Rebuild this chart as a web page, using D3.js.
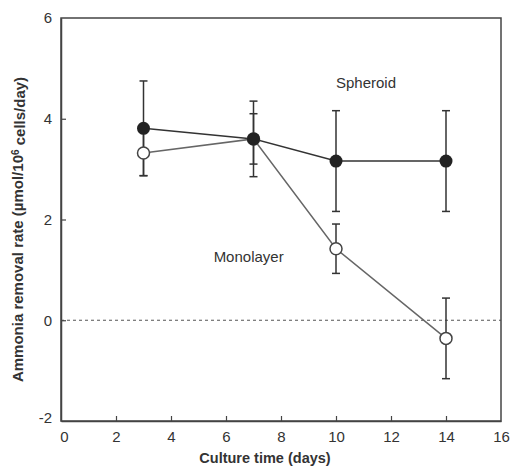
<!DOCTYPE html>
<html>
<head>
<meta charset="utf-8">
<script src="https://cdn.jsdelivr.net/npm/d3@7"></script>
<style>
  body { margin: 0; background: #fff; }
  text { font-family: "Liberation Sans", Arial, sans-serif; fill: #333; }
</style>
</head>
<body>
<svg width="512" height="469"></svg>
<script>
let svg = d3.select("svg");

// donnees
let days = [3, 7, 10, 14];
let spheroid = [3.81, 3.6, 3.16, 3.16];
let spheroidErr = [0.94, 0.5, 1.0, 1.0];
let monolayer = [3.32, 3.6, 1.42, -0.36];
let monolayerErr = [0.45, 0.75, 0.49, 0.8];
let xTicks = [0, 2, 4, 6, 8, 10, 12, 14, 16];
let yTicks = [-2, 0, 2, 4, 6];

let marge = { left: 61, right: 11, top: 18, bottom: 48 };
let w = 512 - marge.left - marge.right;
let h = 469 - marge.top - marge.bottom;

let x = d3.scaleLinear().domain([0, 16]).range([0, w]);
let y = d3.scaleLinear().domain([-2, 6]).range([h, 0]);

let g = svg.append("g").attr("transform", `translate(${marge.left},${marge.top})`);

// ligne zero pointillee
g.append("line")
    .attr("x1", 0).attr("x2", w)
    .attr("y1", y(0)).attr("y2", y(0))
    .attr("stroke", "#555")
    .attr("stroke-width", 1.2)
    .attr("stroke-dasharray", "3,3");

// cadre
g.append("rect")
    .attr("width", w).attr("height", h)
    .attr("fill", "none")
    .attr("stroke", "#444")
    .attr("stroke-width", 1.5);

// axes
let fmt = d => String(d);
let axeX = g.append("g")
    .attr("transform", `translate(0,${h})`)
    .call(d3.axisBottom(x).tickValues(xTicks).tickFormat(fmt).tickSizeInner(-5).tickSizeOuter(0).tickPadding(10));
let axeY = g.append("g")
    .call(d3.axisLeft(y).tickValues(yTicks).tickFormat(fmt).tickSizeInner(-5).tickSizeOuter(0).tickPadding(9));

[axeX, axeY].forEach(a => {
    a.select(".domain").attr("stroke", "#444").attr("stroke-width", 1.5);
    a.selectAll(".tick line").attr("stroke", "#444").attr("stroke-width", 1.2);
    a.selectAll(".tick text").style("font-size", "15px").attr("fill", "#333");
});
axeX.selectAll(".tick").filter(d => d == 0 || d == 16).select("line").remove();
axeY.selectAll(".tick").filter(d => d == -2 || d == 6).select("line").remove();
axeY.selectAll(".tick").filter(d => d == -2).select("text").attr("dy", "0.1em");
axeX.selectAll(".tick").filter(d => d == 0).select("text").attr("dx", "0.2em");

// series
function trace(vals, errs, couleur) {
    let pts = days.map((d, i) => ({ x: d, y: vals[i], e: errs[i] }));
    let s = g.append("g");
    s.append("path")
        .datum(pts)
        .attr("fill", "none")
        .attr("stroke", couleur)
        .attr("stroke-width", 1.5)
        .attr("d", d3.line().x(d => x(d.x)).y(d => y(d.y)));
    let eb = s.selectAll("g.err").data(pts).enter().append("g").attr("class", "err");
    eb.append("line")
        .attr("x1", d => x(d.x)).attr("x2", d => x(d.x))
        .attr("y1", d => y(d.y - d.e)).attr("y2", d => y(d.y + d.e));
    eb.append("line")
        .attr("x1", d => x(d.x) - 4).attr("x2", d => x(d.x) + 4)
        .attr("y1", d => y(d.y + d.e)).attr("y2", d => y(d.y + d.e));
    eb.append("line")
        .attr("x1", d => x(d.x) - 4).attr("x2", d => x(d.x) + 4)
        .attr("y1", d => y(d.y - d.e)).attr("y2", d => y(d.y - d.e));
    eb.selectAll("line").attr("stroke", "#333").attr("stroke-width", 1.5);
    return pts;
}
let ptsM = trace(monolayer, monolayerErr, "#666");
let ptsS = trace(spheroid, spheroidErr, "#333");

g.selectAll("circle.mono").data(ptsM).enter().append("circle")
    .attr("class", "mono")
    .attr("cx", d => x(d.x)).attr("cy", d => y(d.y)).attr("r", 6)
    .attr("fill", "#fff").attr("stroke", "#444").attr("stroke-width", 1.5);
g.selectAll("circle.sph").data(ptsS).enter().append("circle")
    .attr("class", "sph")
    .attr("cx", d => x(d.x)).attr("cy", d => y(d.y)).attr("r", 6.5)
    .attr("fill", "#222");

// annotations
g.append("text").attr("x", x(10.0)).attr("y", y(4.62))
    .style("font-size", "15px").text("Spheroid");
g.append("text").attr("x", x(5.55)).attr("y", y(1.15))
    .style("font-size", "15px").text("Monolayer");

// titres des axes
svg.append("text")
    .attr("x", 265).attr("y", 463)
    .attr("text-anchor", "middle")
    .style("font-size", "14.5px").style("font-weight", "bold")
    .text("Culture time (days)");

let ty = svg.append("text")
    .attr("transform", `translate(23,${marge.top + h / 2 + 10}) rotate(-90)`)
    .attr("text-anchor", "middle")
    .style("font-size", "15px").style("font-weight", "bold");
ty.append("tspan").text("Ammonia removal rate (µmol/10");
ty.append("tspan").attr("dy", "-0.45em").style("font-size", "10px").text("6");
ty.append("tspan").attr("dy", "0.45em").text(" cells/day)");
</script>
</body>
</html>
